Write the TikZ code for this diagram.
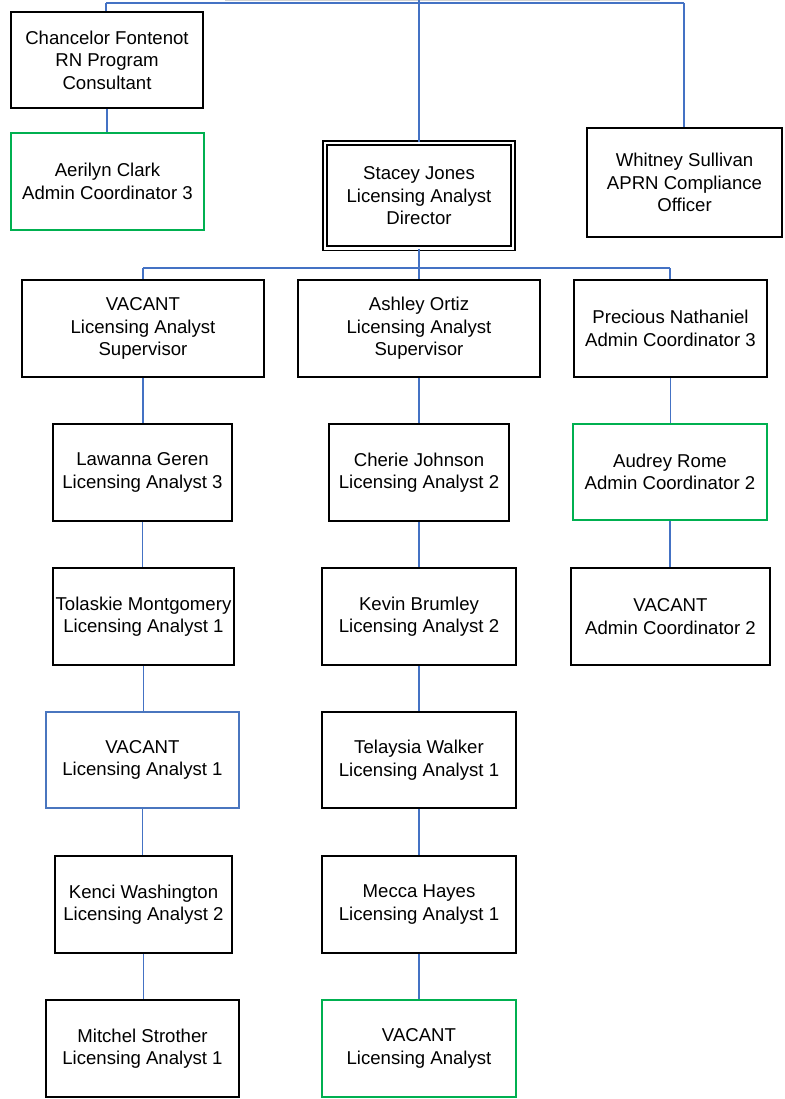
\documentclass[tikz,border=0pt]{standalone}
\usepackage{fontspec}
\setmainfont{Liberation Sans}
\definecolor{conn}{HTML}{4472C4}
\definecolor{grn}{HTML}{00B050}
\definecolor{bluebox}{HTML}{4A76BF}
\begin{document}
\begin{tikzpicture}[x=1pt,y=-1pt,
  box/.style={draw=black, line width=1.9pt, fill=white, align=center, inner sep=0pt,
    font=\fontsize{18.6}{22.5}\selectfont},
  greenbox/.style={box, draw=grn, line width=2.9pt},
  bluebx/.style={box, draw=bluebox, line width=2.9pt},
  dblbox/.style={box, double, double distance=2.4pt, line width=1.8pt},
  link/.style={draw=conn, line width=1.5pt}]
\useasboundingbox (0,0) rectangle (784,1099);
\fill[gray!35] (225,0) rectangle (660,1.5);

% top row
\node[box, minimum width=192, minimum height=96] (chan) at (107,60) {Chancelor Fontenot\\RN Program\\Consultant};
\node[greenbox, minimum width=193, minimum height=97] (aer) at (107.5,181.5) {Aerilyn Clark\\Admin Coordinator 3};
\node[dblbox, minimum width=188, minimum height=105.5] (stac) at (419,195.7) {Stacey Jones\\Licensing Analyst\\Director};
\node[box, minimum width=195, minimum height=109] (whit) at (684.5,182.5) {Whitney Sullivan\\APRN Compliance\\Officer};

% second row
\node[box, minimum width=242, minimum height=97] (vsup) at (143,328.5) {VACANT\\Licensing Analyst\\Supervisor};
\node[box, minimum width=242, minimum height=97] (ash) at (419,328.5) {Ashley Ortiz\\Licensing Analyst\\Supervisor};
\node[box, minimum width=193, minimum height=97] (prec) at (670.5,328.5) {Precious Nathaniel\\Admin Coordinator 3};

% column 1
\node[box, minimum width=179, minimum height=97] (law) at (142.5,472.5) {Lawanna Geren\\Licensing Analyst 3};
\node[box, minimum width=181, minimum height=97] (tol) at (143.5,616.5) {Tolaskie Montgomery\\Licensing Analyst 1};
\node[bluebx, minimum width=193, minimum height=96] (vla1) at (142.5,760) {VACANT\\Licensing Analyst 1};
\node[box, minimum width=177, minimum height=97] (ken) at (143.5,904.5) {Kenci Washington\\Licensing Analyst 2};
\node[box, minimum width=193, minimum height=97] (mit) at (142.5,1048.5) {Mitchel Strother\\Licensing Analyst 1};

% column 2
\node[box, minimum width=180, minimum height=97] (che) at (419,472.5) {Cherie Johnson\\Licensing Analyst 2};
\node[box, minimum width=194, minimum height=97] (kev) at (419,616.5) {Kevin Brumley\\Licensing Analyst 2};
\node[box, minimum width=194, minimum height=96] (tel) at (419,760) {Telaysia Walker\\Licensing Analyst 1};
\node[box, minimum width=194, minimum height=97] (mec) at (419,904.5) {Mecca Hayes\\Licensing Analyst 1};
\node[greenbox, minimum width=194, minimum height=97] (vla) at (419,1048.5) {VACANT\\Licensing Analyst};

% column 3
\node[greenbox, minimum width=194, minimum height=96] (aud) at (670,472) {Audrey Rome\\Admin Coordinator 2};
\node[box, minimum width=199, minimum height=97] (vac2) at (670.5,616.5) {VACANT\\Admin Coordinator 2};

% top connectors
\coordinate (topL) at (106,3);
\coordinate (topR) at (684,3);
\coordinate (topS) at (419,0);
\draw[link] (topL) -- (topR);
\draw[link] (chan.north -| topL) -- (topL);
\draw[link] (topS) -- (stac.north);
\draw[link] (topR) -- (topR |- whit.north);
\draw[link] (chan.south) -- (chan.south |- aer.north);

% bus under director
\coordinate (busL) at (143,268);
\coordinate (busR) at (670,268);
\draw[link] (busL) -- (busR);
\draw[link] (stac.south) -- (stac.south |- busL);
\draw[link] (busL) -- (busL |- vsup.north);
\draw[link] (ash.north |- busL) -- (ash.north);
\draw[link] (busR) -- (busR |- prec.north);

% column chains
\foreach \a/\b in {vsup/law, law/tol, tol/vla1, vla1/ken, ken/mit,
                   ash/che, che/kev, kev/tel, tel/mec, mec/vla,
                   prec/aud, aud/vac2}
  \draw[link] (\a.south) -- (\a.south |- \b.north);
\end{tikzpicture}
\end{document}
